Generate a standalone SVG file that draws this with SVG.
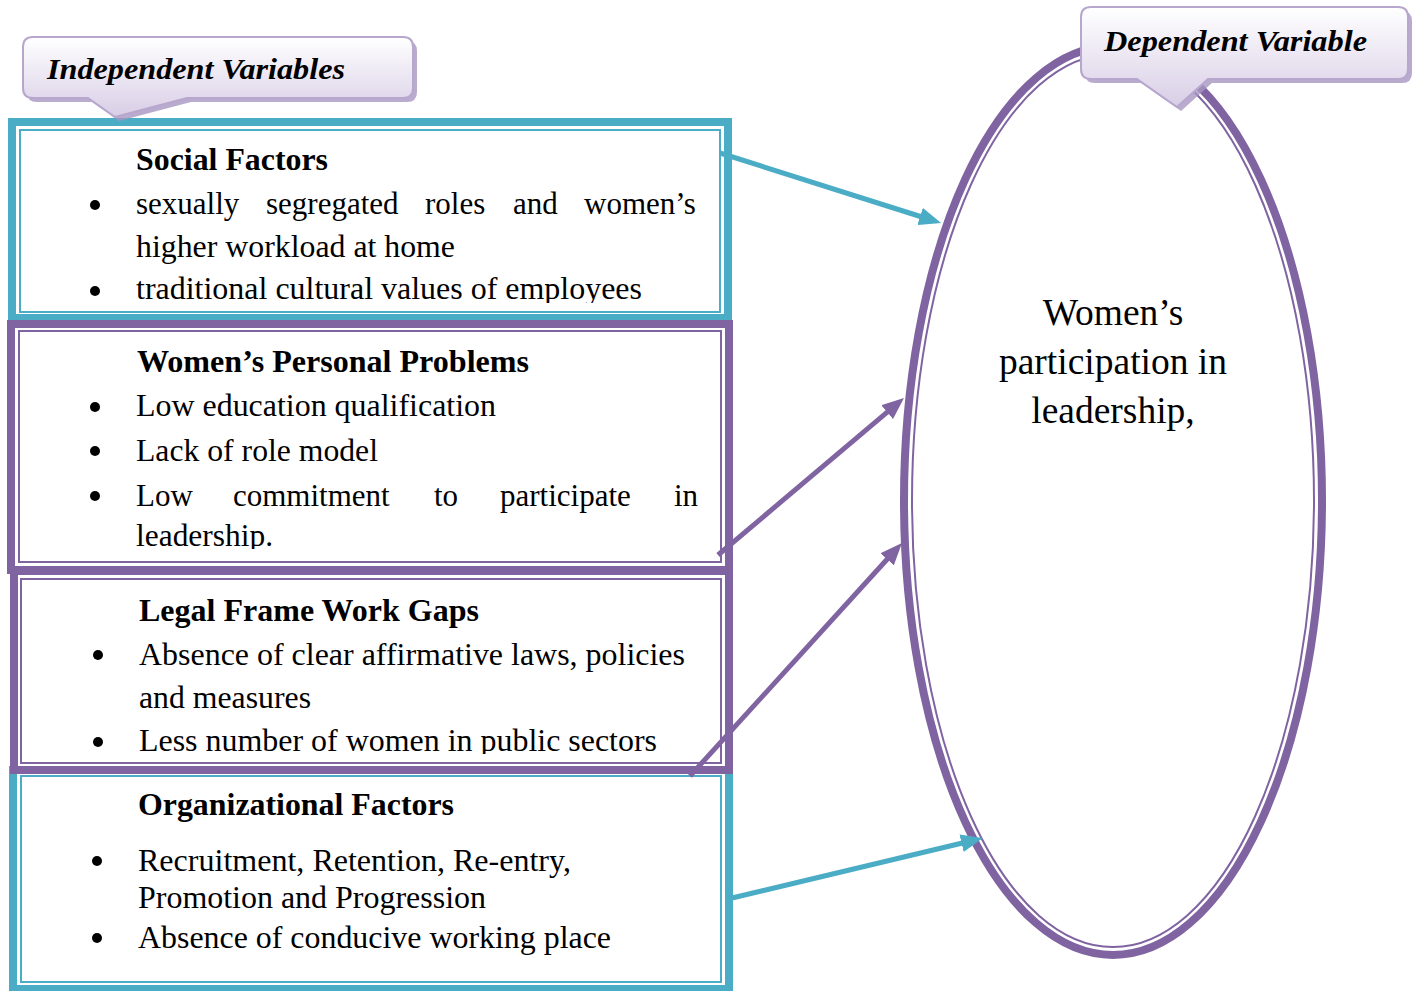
<svg xmlns="http://www.w3.org/2000/svg" width="1418" height="991" viewBox="0 0 1418 991">
<style>
.teal{fill:none;stroke:#4BACC6}
.purp{fill:none;stroke:#8064A2}
.band{stroke-width:8}
.thin{stroke-width:2}
.t{font-family:"Liberation Serif","Times New Roman",serif;font-size:31px;fill:#000}
.b{font-weight:bold}
.call{font-family:"Liberation Serif","Times New Roman",serif;font-size:30px;font-weight:bold;font-style:italic;fill:#000}
.ell{font-family:"Liberation Serif","Times New Roman",serif;font-size:37.5px;fill:#000;text-anchor:middle}
.cshape{fill:url(#cg);stroke:#B7A6CE;stroke-width:2}
.cshadow{fill:#A896C0;opacity:0.8}
.ca{stroke-width:5;fill:none}
</style>
<defs>
<linearGradient id="cg" x1="0" y1="0" x2="0" y2="1">
<stop offset="0" stop-color="#FFFFFF"/>
<stop offset="1" stop-color="#D8CDE6"/>
</linearGradient>
<marker id="ahT" markerUnits="userSpaceOnUse" markerWidth="22" markerHeight="18" viewBox="0 0 22 18" refX="2" refY="9" orient="auto">
<path d="M0,0 L22,9 L0,18 Z" fill="#4BACC6"/>
</marker>
<marker id="ahP" markerUnits="userSpaceOnUse" markerWidth="22" markerHeight="18" viewBox="0 0 22 18" refX="2" refY="9" orient="auto">
<path d="M0,0 L22,9 L0,18 Z" fill="#8064A2"/>
</marker>
<clipPath id="c1"><rect x="20" y="130" width="700" height="173"/></clipPath>
<clipPath id="c2"><rect x="20" y="330" width="700" height="219"/></clipPath>
<clipPath id="c3"><rect x="20" y="578" width="700" height="176"/></clipPath>
<circle id="bul" r="5" fill="#000"/>
</defs>

<g id="social-factors">
<rect class="teal band" x="12" y="122" width="716" height="196"/>
<rect class="teal thin" x="20" y="130" width="700" height="182"/>
<g clip-path="url(#c1)">
<text class="t b" x="136" y="170" textLength="192" lengthAdjust="spacingAndGlyphs">Social Factors</text>
<use href="#bul" x="95" y="205"/>
<text class="t" y="214"><tspan x="136">sexually</tspan><tspan x="266">segregated</tspan><tspan x="425">roles</tspan><tspan x="513">and</tspan><tspan x="584">women’s</tspan></text>
<text class="t" x="136" y="257" textLength="319" lengthAdjust="spacingAndGlyphs">higher workload at home</text>
<use href="#bul" x="95" y="291"/>
<text class="t" x="136" y="299" textLength="506" lengthAdjust="spacingAndGlyphs">traditional cultural values of employees</text>
</g>
</g>

<g id="organizational-factors">
<rect class="teal band" x="13" y="770" width="716" height="219"/>
<rect class="teal thin" x="21" y="776" width="700" height="206"/>
<text class="t b" x="138" y="815" textLength="316" lengthAdjust="spacingAndGlyphs">Organizational Factors</text>
<use href="#bul" x="97" y="861"/>
<text class="t" x="138" y="871" textLength="433" lengthAdjust="spacingAndGlyphs">Recruitment, Retention, Re-entry,</text>
<text class="t" x="138" y="908" textLength="348" lengthAdjust="spacingAndGlyphs">Promotion and Progression</text>
<use href="#bul" x="97" y="938"/>
<text class="t" x="138" y="948" textLength="473" lengthAdjust="spacingAndGlyphs">Absence of conducive working place</text>
</g>

<g id="personal-problems">
<rect class="purp band" x="11" y="324" width="718" height="246"/>
<rect class="purp thin" x="19" y="331" width="702" height="231"/>
<g clip-path="url(#c2)">
<text class="t b" x="137" y="372" textLength="392" lengthAdjust="spacingAndGlyphs">Women’s Personal Problems</text>
<use href="#bul" x="95" y="407"/>
<text class="t" x="136" y="416" textLength="360" lengthAdjust="spacingAndGlyphs">Low education qualification</text>
<use href="#bul" x="95" y="451"/>
<text class="t" x="136" y="461" textLength="242" lengthAdjust="spacingAndGlyphs">Lack of role model</text>
<use href="#bul" x="95" y="496"/>
<text class="t" y="506"><tspan x="136">Low</tspan><tspan x="233">commitment</tspan><tspan x="434">to</tspan><tspan x="500">participate</tspan><tspan x="674">in</tspan></text>
<text class="t" x="136" y="546" textLength="137" lengthAdjust="spacingAndGlyphs">leadership.</text>
</g>
</g>

<g id="legal-frame-work">
<rect class="purp band" x="14" y="571" width="715" height="199"/>
<rect class="purp thin" x="21" y="579" width="700" height="184"/>
<g clip-path="url(#c3)">
<text class="t b" x="139" y="621" textLength="340" lengthAdjust="spacingAndGlyphs">Legal Frame Work Gaps</text>
<use href="#bul" x="98" y="655"/>
<text class="t" x="139" y="665" textLength="546" lengthAdjust="spacingAndGlyphs">Absence of clear affirmative laws, policies</text>
<text class="t" x="139" y="708" textLength="172" lengthAdjust="spacingAndGlyphs">and measures</text>
<use href="#bul" x="98" y="742"/>
<text class="t" x="139" y="751" textLength="518" lengthAdjust="spacingAndGlyphs">Less number of women in public sectors</text>
</g>
</g>

<g id="womens-participation">
<ellipse class="purp" cx="1113" cy="500.5" rx="209" ry="454.5" stroke-width="8"/>
<ellipse class="purp thin" cx="1113" cy="500.5" rx="201" ry="446.5"/>
<text class="ell" x="1113" y="325">Women’s</text>
<text class="ell" x="1113" y="374">participation in</text>
<text class="ell" x="1113" y="423">leadership,</text>
</g>

<g id="connectors">
<line class="ca" x1="720" y1="153" x2="922" y2="217" stroke="#4BACC6" marker-end="url(#ahT)"/>
<line class="ca" x1="718" y1="555" x2="888.7" y2="410.9" stroke="#8064A2" marker-end="url(#ahP)"/>
<line class="ca" x1="690" y1="776" x2="888.5" y2="557.8" stroke="#8064A2" marker-end="url(#ahP)"/>
<line class="ca" x1="732" y1="898" x2="963.5" y2="842.7" stroke="#4BACC6" marker-end="url(#ahT)"/>
</g>

<g id="independent-variables-label">
<path class="cshadow" transform="translate(4,4)" d="M33,37 H403 Q413,37 413,47 V88 Q413,98 403,98 H187 L115,117 L88,98 H33 Q23,98 23,88 V47 Q23,37 33,37 Z"/>
<path class="cshape" d="M33,37 H403 Q413,37 413,47 V88 Q413,98 403,98 H187 L115,117 L88,98 H33 Q23,98 23,88 V47 Q23,37 33,37 Z"/>
<text class="call" x="47" y="79" textLength="298" lengthAdjust="spacingAndGlyphs">Independent Variables</text>
</g>

<g id="dependent-variable-label">
<path class="cshadow" transform="translate(4,4)" d="M1091,7 H1398 Q1408,7 1408,17 V69 Q1408,79 1398,79 H1208 L1177,107 L1137,79 H1091 Q1081,79 1081,69 V17 Q1081,7 1091,7 Z"/>
<path class="cshape" d="M1091,7 H1398 Q1408,7 1408,17 V69 Q1408,79 1398,79 H1208 L1177,107 L1137,79 H1091 Q1081,79 1081,69 V17 Q1081,7 1091,7 Z"/>
<text class="call" x="1104" y="51" textLength="263" lengthAdjust="spacingAndGlyphs">Dependent Variable</text>
</g>
</svg>
